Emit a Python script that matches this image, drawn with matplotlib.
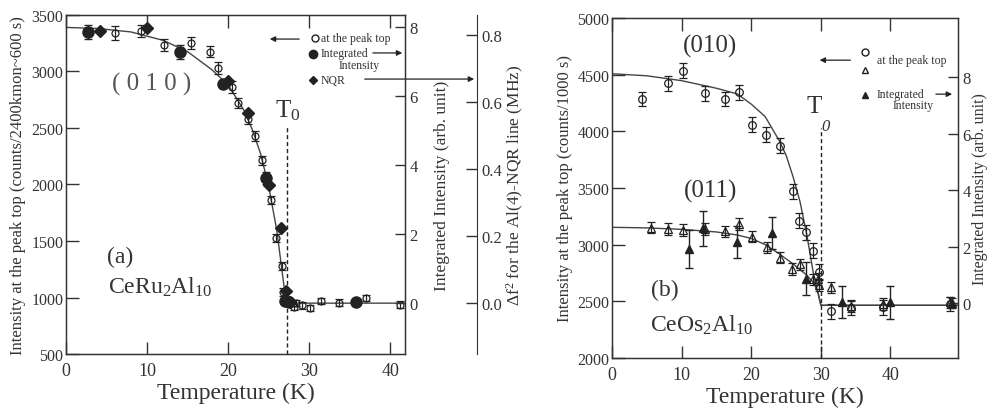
import matplotlib.pyplot as plt

# ---- panel (a) CeRu2Al10 ----
a_open_T = [6.0, 9.3, 12.1, 15.4, 17.8, 18.7, 20.5, 21.2, 22.4, 23.3, 24.2, 25.3, 25.9,
            26.6, 26.8, 27.2, 28.1, 28.3, 29.1, 30.1, 31.4, 33.6, 37.0, 41.2]
a_open_I = [3340, 3356, 3235, 3250, 3175, 3031, 2863, 2719, 2580, 2427, 2214, 1866, 1524,
            1281, 1048, 975, 913, 950, 930, 905, 971, 955, 993, 938]
a_open_err = [65, 52, 55, 55, 50, 50, 50, 45, 45, 45, 40, 35, 35,
              35, 35, 30, 28, 28, 28, 28, 28, 28, 28, 28]

a_int_T = [2.75, 14.1, 19.3, 24.65, 27.0, 27.5, 35.8]
a_int_I = [7.85, 7.27, 6.35, 3.62, 0.07, 0.03, 0.04]      # right axis (arb. unit)
a_int_err = [0.2, 0.2, 0.12, 0.18, 0.08, 0.08, 0.05]

a_nqr_T = [4.2, 9.96, 20.0, 22.4, 25.0, 26.5, 27.1, 27.6]
a_nqr_df2 = [0.811, 0.82, 0.664, 0.566, 0.351, 0.223, 0.037, 0.003]   # MHz

a_fit_T = [0, 4, 8, 12, 15, 18, 20, 22, 23, 24, 25, 26, 26.5, 27.1, 27.5, 42]
a_fit_I = [3390, 3380, 3350, 3275, 3175, 3015, 2880, 2650, 2480, 2270, 1980, 1590, 1310, 980, 950, 950]

# ---- panel (b) CeOs2Al10 ----
b_010_T = [4.26, 7.99, 10.2, 13.3, 16.2, 18.2, 20.1, 22.1, 24.1, 26.0, 26.9, 27.8, 28.8,
           29.8, 31.4, 34.3, 38.9, 48.6]
b_010_I = [4285, 4424, 4535, 4336, 4285, 4344, 4059, 3970, 3873, 3470, 3211, 3109, 2947,
           2762, 2412, 2440, 2447, 2476]

b_011_T = [5.55, 8.0, 10.2, 13.3, 16.2, 18.2, 20.1, 22.2, 24.1, 25.9, 27.0, 28.8, 29.6,
           29.8, 31.5, 34.3, 38.9, 48.6]
b_011_I = [3150, 3138, 3130, 3138, 3118, 3182, 3071, 2976, 2885, 2785, 2825, 2694, 2697,
           2640, 2624, 2460, 2476, 2490]

b_int_T = [11.1, 13.1, 17.9, 23.0, 27.9, 33.0, 39.9, 48.9]
b_int_I = [1.91, 2.65, 2.15, 2.47, 0.86, 0.05, 0.02, 0.0]
b_int_err = [0.67, 0.62, 0.57, 0.56, 0.58, 0.57, 0.6, 0.18]

b_fit010_T = [0, 5, 10, 15, 18, 20, 22, 24, 25, 26, 27, 28, 29, 30, 50]
b_fit010_I = [4508, 4490, 4447, 4380, 4330, 4240, 4130, 3920, 3790, 3600, 3380, 3080, 2720, 2465, 2465]
b_fit011_T = [0, 5, 10, 15, 18, 20, 22, 24, 26, 28, 29, 29.6, 30, 50]
b_fit011_I = [3153, 3148, 3135, 3112, 3085, 3055, 3000, 2920, 2830, 2730, 2660, 2580, 2465, 2465]

plt.rcParams['font.family'] = ['Liberation Serif', 'DejaVu Serif']
plt.rcParams['mathtext.fontset'] = 'custom'
plt.rcParams['mathtext.rm'] = 'Liberation Serif'
plt.rcParams['mathtext.it'] = 'Liberation Serif:italic'

ink = '#222222'
txt = '#333333'

fig = plt.figure(figsize=(9.91, 4.14), dpi=100)
axa = fig.add_axes([0.0666, 0.1425, 0.3421, 0.8189])
axb = fig.add_axes([0.6176, 0.1329, 0.3491, 0.8212])


def style(ax, ylen=9):
    for s in ax.spines.values():
        s.set_color(txt)
        s.set_linewidth(1.0)
    ax.tick_params(direction='in', top=True, length=ylen, width=1.0, color=txt,
                   labelcolor=txt)
    ax.tick_params(axis='x', labelsize=13, pad=6)
    ax.tick_params(axis='y', labelsize=11.5, pad=2)


# ---------------- (a) ----------------
style(axa)
axa.set_xlim(0, 41.8)
axa.set_ylim(500, 3500)
axa.set_xticks([0, 10, 20, 30, 40])
axa.set_yticks(range(500, 3501, 500))
axa.set_xlabel('Temperature (K)', fontsize=17, color=txt, labelpad=2)
axa.set_ylabel('Intensity at the peak top (counts/2400kmon~600 s)', fontsize=12, color=txt, labelpad=4)

axa.plot(a_fit_T, a_fit_I, color='#444444', lw=1.0, zorder=2)
axa.errorbar(a_open_T, a_open_I, yerr=a_open_err, fmt='o', ms=5, mfc='none', mec=ink,
             mew=0.9, ecolor=ink, elinewidth=0.9, capsize=3.2, capthick=0.9, zorder=3)
axa.plot([27.25, 27.25], [500, 2530], ls=(0, (3, 2)), color=ink, lw=1.0)
axa.text(27.3, 2660, 'T$_0$', fontsize=18, color=txt, ha='center', va='center')
axa.text(10.6, 2890, '( 0 1 0 )', fontsize=18, color='#555555', ha='center', va='center')
axa.text(6.7, 1360, '(a)', fontsize=17, color=txt, ha='center', va='center')
axa.text(11.6, 1100, 'CeRu$_2$Al$_{10}$', fontsize=17, color=txt, ha='center', va='center')

axi = axa.twinx()
axi.set_ylim(-1.473, 8.347)
axi.set_yticks([0, 2, 4, 6, 8])
for s in axi.spines.values():
    s.set_color(txt)
axi.tick_params(direction='in', length=7, width=1.0, color=txt, labelcolor=txt,
                labelsize=12, pad=3)
axi.set_ylabel('Integrated Intensity (arb. unit)', fontsize=12.5, color=txt, labelpad=12)
axi.errorbar(a_int_T, a_int_I, yerr=a_int_err, fmt='o', ms=8, color=ink, ecolor=ink,
             elinewidth=1.0, capsize=3.2, zorder=4)

axn = axa.twinx()
axn.set_ylim(-0.1517, 0.8597)
axn.spines['right'].set_position(('axes', 1.2124))
axn.spines['right'].set_color(txt)
for k in ['top', 'bottom', 'left']:
    axn.spines[k].set_visible(False)
axn.set_yticks([0.0, 0.2, 0.4, 0.6, 0.8])
axn.set_yticklabels(['0.0', '0.2', '0.4', '0.6', '0.8'])
axn.tick_params(direction='in', length=8, width=1.0, color=txt, labelcolor=txt,
                labelsize=12, pad=3)
axn.set_ylabel('Δf$^2$ for the Al(4)-NQR line (MHz)', fontsize=12.5, color=txt, labelpad=2)
axn.plot(a_nqr_T, a_nqr_df2, 'D', ms=6, color=ink, zorder=5)

# legend (a)
lt = axa.transAxes
axa.plot([0.7345], [0.932], 'o', ms=5, mfc='none', mec=ink, transform=lt, clip_on=False)
axa.text(0.752, 0.932, 'at the peak top', transform=lt, fontsize=8.5, color=txt, va='center')
axa.annotate('', xy=(0.593, 0.929), xytext=(0.696, 0.929), xycoords=lt,
             arrowprops=dict(arrowstyle='-|>', color=ink, lw=0.9, mutation_scale=8))
axa.plot([0.7286], [0.885], 'o', ms=6, color=ink, transform=lt, clip_on=False)
axa.text(0.752, 0.888, 'Integrated', transform=lt, fontsize=8.5, color=txt, va='center')
axa.text(0.805, 0.853, 'Intensity', transform=lt, fontsize=8.5, color=txt, va='center')
axa.annotate('', xy=(1.0, 0.888), xytext=(0.897, 0.888), xycoords=lt,
             arrowprops=dict(arrowstyle='-|>', color=ink, lw=0.9, mutation_scale=8))
axa.plot([0.7286], [0.808], 'D', ms=4.5, color=ink, transform=lt, clip_on=False)
axa.text(0.752, 0.808, 'NQR', transform=lt, fontsize=8.5, color=txt, va='center')
axa.annotate('', xy=(1.212, 0.811), xytext=(0.873, 0.811), xycoords=lt,
             arrowprops=dict(arrowstyle='-|>', color=ink, lw=0.9, mutation_scale=8))

# ---------------- (b) ----------------
style(axb)
axb.set_xlim(0, 49.7)
axb.set_ylim(2000, 5000)
axb.set_xticks([0, 10, 20, 30, 40])
axb.set_yticks(range(2000, 5001, 500))
axb.set_xlabel('Temperature (K)', fontsize=17, color=txt, labelpad=2)
axb.set_ylabel('Intensity at the peak top (counts/1000 s)', fontsize=12, color=txt, labelpad=3)

axb.plot(b_fit010_T, b_fit010_I, color='#444444', lw=1.0, zorder=2)
axb.plot(b_fit011_T, b_fit011_I, color='#444444', lw=1.0, zorder=2)
axb.errorbar(b_010_T, b_010_I, yerr=65, fmt='o', ms=5.5, mfc='none', mec=ink, mew=0.9,
             ecolor=ink, elinewidth=0.9, capsize=3.2, capthick=0.9, zorder=3)
axb.errorbar(b_011_T, b_011_I, yerr=50, fmt='^', ms=5.5, mfc='none', mec=ink, mew=0.9,
             ecolor=ink, elinewidth=0.9, capsize=3.2, capthick=0.9, zorder=3)
axb.plot([30, 30], [2000, 4030], ls=(0, (3, 2)), color=ink, lw=1.0)
axb.text(29.1, 4224, 'T', fontsize=18, color=txt, ha='center', va='center')
axb.text(30.7, 4047, '0', fontsize=12, color=txt, ha='center', va='center', style='italic')
axb.text(14.1, 4756, '(010)', fontsize=18, color=txt, ha='center', va='center')
axb.text(14.1, 3476, '(011)', fontsize=18, color=txt, ha='center', va='center')
axb.text(7.6, 2609, '(b)', fontsize=17, color=txt, ha='center', va='center')
axb.text(12.9, 2300, 'CeOs$_2$Al$_{10}$', fontsize=17, color=txt, ha='center', va='center')

axbi = axb.twinx()
axbi.set_ylim(-1.945, 10.088)
axbi.set_yticks([0, 2, 4, 6, 8])
for s in axbi.spines.values():
    s.set_color(txt)
axbi.tick_params(direction='in', length=7, width=1.0, color=txt, labelcolor=txt,
                 labelsize=12, pad=3)
axbi.set_ylabel('Integrated Intensity (arb. unit)', fontsize=11.5, color=txt, labelpad=1)
axbi.errorbar(b_int_T, b_int_I, yerr=b_int_err, fmt='^', ms=6, color=ink, ecolor=ink,
              elinewidth=1.0, capsize=3.2, zorder=4)

# legend (b)
lb = axb.transAxes
axb.plot([0.731], [0.899], 'o', ms=5, mfc='none', mec=ink, transform=lb, clip_on=False)
axb.plot([0.731], [0.848], '^', ms=5, mfc='none', mec=ink, transform=lb, clip_on=False)
axb.text(0.766, 0.876, 'at the peak top', transform=lb, fontsize=8.5, color=txt, va='center')
axb.annotate('', xy=(0.592, 0.876), xytext=(0.697, 0.876), xycoords=lb,
             arrowprops=dict(arrowstyle='-|>', color=ink, lw=0.9, mutation_scale=8))
axb.plot([0.731], [0.774], '^', ms=5, color=ink, transform=lb, clip_on=False)
axb.text(0.766, 0.776, 'Integrated', transform=lb, fontsize=8.5, color=txt, va='center')
axb.text(0.812, 0.744, 'Intensity', transform=lb, fontsize=8.5, color=txt, va='center')
axb.annotate('', xy=(0.991, 0.776), xytext=(0.928, 0.776), xycoords=lb,
             arrowprops=dict(arrowstyle='-|>', color=ink, lw=0.9, mutation_scale=8))

fig.savefig('out.png', dpi=100)
